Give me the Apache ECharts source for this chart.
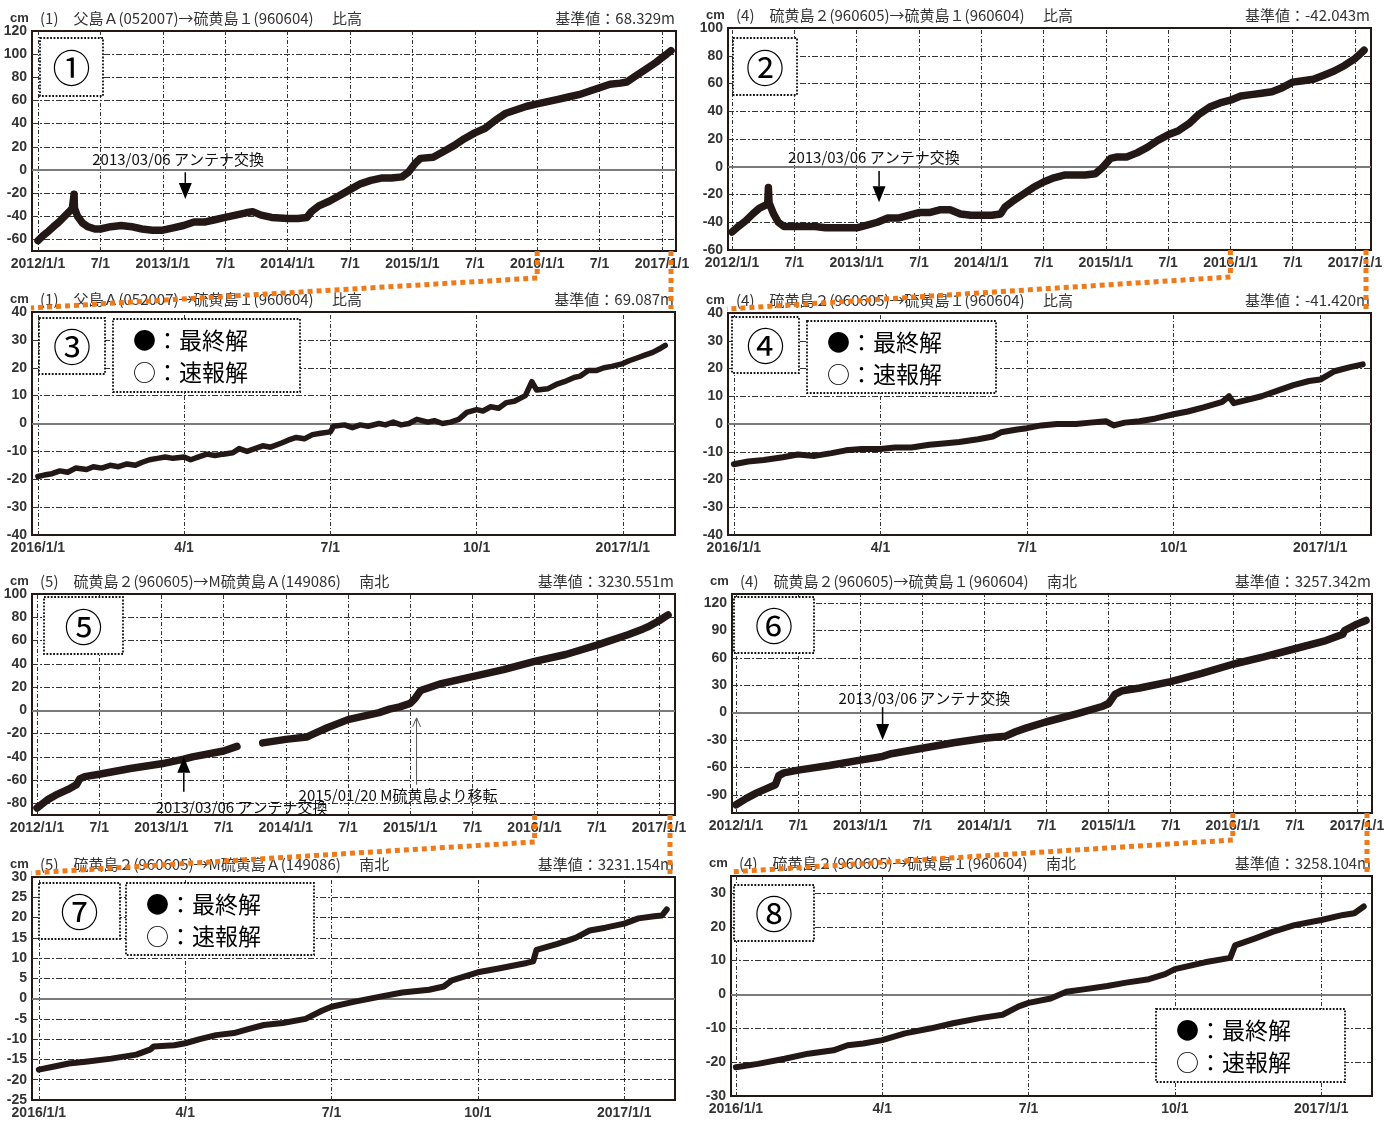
<!DOCTYPE html>
<html>
<head>
<meta charset="utf-8">
<title>硫黄島 GNSS 基線変化</title>
<script src="https://cdn.jsdelivr.net/npm/echarts@6/dist/echarts.min.js"></script>
<style>
  html, body { margin: 0; padding: 0; background: #ffffff; }
  #chart { width: 1399px; height: 1121px; }
</style>
</head>
<body>
<div id="chart"></div>
<script>
// ---------------------------------------------------------------
// Baseline time series (cm), [date, value]
// ---------------------------------------------------------------
const p1Data = [
  ['2012/1/1',-61],['2012/1/15',-57],['2012/2/1',-53],['2012/2/15',-49],['2012/3/1',-45],
  ['2012/3/15',-41],['2012/4/1',-36],['2012/4/10',-33],['2012/4/14',-32],['2012/4/15',-21],
  ['2012/4/16',-33],['2012/4/25',-40],['2012/5/10',-46],['2012/5/25',-49],['2012/6/15',-51],
  ['2012/7/1',-51],['2012/8/1',-49],['2012/9/1',-48],['2012/10/1',-49],['2012/11/1',-51],
  ['2012/12/1',-52],['2013/1/1',-52],['2013/2/1',-50],['2013/3/1',-48],['2013/4/1',-45],
  ['2013/5/1',-45],['2013/6/1',-43],['2013/7/1',-41],['2013/8/1',-39],['2013/9/1',-37],
  ['2013/9/20',-36],['2013/10/15',-39],['2013/11/15',-41],['2014/1/1',-42],['2014/2/1',-42],
  ['2014/2/25',-41],['2014/3/10',-36],['2014/4/1',-31],['2014/5/1',-27],['2014/6/1',-22],
  ['2014/7/1',-17],['2014/8/1',-12],['2014/9/1',-9],['2014/10/1',-7],['2014/11/1',-7],
  ['2014/12/1',-6],['2014/12/20',-2],['2015/1/10',6],['2015/1/25',10],['2015/3/1',11],
  ['2015/4/1',16],['2015/5/1',21],['2015/6/1',27],['2015/7/1',32],['2015/8/1',36],
  ['2015/9/1',43],['2015/10/1',49],['2015/11/1',52],['2015/12/1',55],['2016/1/1',57],
  ['2016/2/1',59],['2016/3/1',61],['2016/4/1',63],['2016/5/1',65],['2016/6/1',68],
  ['2016/7/1',71],['2016/8/1',74],['2016/9/1',75],['2016/9/20',76],['2016/10/15',81],
  ['2016/11/15',87],['2016/12/15',93],['2017/1/1',97],['2017/1/15',100],['2017/1/28',103]
];
const p2Data = [
  ['2012/1/1',-47],['2012/1/20',-43],['2012/2/10',-39],['2012/3/1',-34],['2012/3/20',-30],
  ['2012/4/5',-28],['2012/4/14',-27],['2012/4/16',-15],['2012/4/18',-26],['2012/5/1',-34],
  ['2012/5/15',-40],['2012/6/1',-43],['2012/7/1',-43],['2012/8/1',-43],['2012/9/1',-43],
  ['2012/10/1',-44],['2012/11/1',-44],['2012/12/1',-44],['2013/1/1',-44],['2013/2/1',-42],
  ['2013/3/1',-40],['2013/4/1',-37],['2013/5/1',-37],['2013/6/1',-35],['2013/7/1',-33],
  ['2013/8/1',-33],['2013/9/1',-31],['2013/10/1',-31],['2013/11/1',-34],['2013/12/1',-35],
  ['2014/1/1',-35],['2014/2/1',-35],['2014/2/25',-34],['2014/3/10',-29],['2014/4/1',-25],
  ['2014/5/1',-20],['2014/6/1',-15],['2014/7/1',-11],['2014/8/1',-8],['2014/9/1',-6],
  ['2014/10/1',-6],['2014/11/1',-6],['2014/12/1',-5],['2014/12/20',-1],['2015/1/15',6],
  ['2015/2/1',7],['2015/3/1',7],['2015/4/1',10],['2015/5/1',14],['2015/6/1',19],
  ['2015/7/1',23],['2015/8/1',26],['2015/9/1',31],['2015/10/1',38],['2015/11/1',43],
  ['2015/12/1',46],['2016/1/1',48],['2016/2/1',51],['2016/3/1',52],['2016/4/1',53],
  ['2016/5/1',54],['2016/6/1',57],['2016/7/1',61],['2016/8/1',62],['2016/9/1',63],
  ['2016/10/1',66],['2016/11/1',69],['2016/12/1',73],['2017/1/1',78],['2017/1/15',81],
  ['2017/1/28',84]
];
const p3Data = [
  ['2016/1/1',-19],['2016/1/5',-18.5],['2016/1/10',-18],['2016/1/15',-17],['2016/1/20',-17.5],
  ['2016/1/25',-16],['2016/2/1',-16.5],['2016/2/5',-15.5],['2016/2/10',-16],['2016/2/15',-15],
  ['2016/2/20',-15.5],['2016/2/25',-14.5],['2016/3/1',-15],['2016/3/5',-14],['2016/3/10',-13],
  ['2016/3/15',-12.5],['2016/3/20',-12],['2016/3/25',-12.5],['2016/4/1',-12],['2016/4/5',-13],
  ['2016/4/10',-12],['2016/4/15',-11],['2016/4/20',-11.5],['2016/4/25',-11],['2016/5/1',-10.5],
  ['2016/5/5',-9],['2016/5/10',-10],['2016/5/15',-9],['2016/5/20',-8],['2016/5/25',-8.5],
  ['2016/6/1',-7],['2016/6/5',-6],['2016/6/10',-5],['2016/6/15',-5.5],['2016/6/20',-4],
  ['2016/6/25',-3.5],['2016/7/1',-3],['2016/7/3',-1],['2016/7/10',-0.5],['2016/7/15',-1.5],
  ['2016/7/20',-0.5],['2016/7/25',-1],['2016/8/1',0],['2016/8/5',-0.5],['2016/8/10',0.5],
  ['2016/8/15',-0.5],['2016/8/20',0],['2016/8/25',1.5],['2016/9/1',0.5],['2016/9/5',1],
  ['2016/9/10',0],['2016/9/15',0.5],['2016/9/20',1.5],['2016/9/25',4],['2016/10/1',5],
  ['2016/10/5',4.5],['2016/10/10',6],['2016/10/15',5.5],['2016/10/20',7.5],['2016/10/25',8],
  ['2016/11/1',10],['2016/11/5',15],['2016/11/8',12],['2016/11/15',12.5],['2016/11/20',14],
  ['2016/11/25',15],['2016/12/1',16.5],['2016/12/5',17],['2016/12/10',19],['2016/12/15',19],
  ['2016/12/20',20],['2016/12/25',20.5],['2017/1/1',21.5],['2017/1/5',22.5],['2017/1/10',23.5],
  ['2017/1/15',24.5],['2017/1/20',25.5],['2017/1/25',27],['2017/1/28',28]
];
const p4Data = [
  ['2016/1/1',-14.5],['2016/1/10',-13.5],['2016/1/20',-13],['2016/2/1',-12],['2016/2/10',-11],
  ['2016/2/20',-11.5],['2016/3/1',-10.5],['2016/3/10',-9.5],['2016/3/20',-9],['2016/4/1',-9],
  ['2016/4/10',-8.5],['2016/4/20',-8.5],['2016/5/1',-7.5],['2016/5/10',-7],['2016/5/20',-6.5],
  ['2016/6/1',-5.5],['2016/6/10',-4.5],['2016/6/15',-3],['2016/6/25',-2],['2016/7/1',-1.5],
  ['2016/7/10',-0.5],['2016/7/20',0],['2016/8/1',0],['2016/8/10',0.5],['2016/8/20',1],
  ['2016/8/25',-0.5],['2016/9/1',0.5],['2016/9/10',1],['2016/9/20',2],['2016/10/1',3.5],
  ['2016/10/10',4.5],['2016/10/20',6],['2016/11/1',8],['2016/11/5',10],['2016/11/8',7.5],
  ['2016/11/15',8.5],['2016/11/25',10],['2016/12/5',12],['2016/12/15',14],['2016/12/25',15.5],
  ['2017/1/1',16],['2017/1/10',19],['2017/1/20',20.5],['2017/1/28',21.5]
];
const p5Data = [
  ['2012/1/1',-84],['2012/2/1',-77],['2012/3/1',-72],['2012/4/1',-68],['2012/4/25',-64],
  ['2012/5/5',-59],['2012/5/20',-57],['2012/7/1',-55],['2012/10/1',-50],['2013/1/1',-46],
  ['2013/3/6',-42],['2013/4/1',-40],['2013/7/1',-35],['2013/8/10',-31],
  ['2013/9/15',null],
  ['2013/10/25',-28],['2014/1/1',-25],['2014/3/1',-23],['2014/4/1',-19],['2014/5/1',-15],
  ['2014/7/1',-8],['2014/10/1',-2],['2014/11/1',1],['2014/12/1',3],['2015/1/1',6],
  ['2015/1/15',10],['2015/2/1',17],['2015/3/1',20],['2015/4/1',23],['2015/7/1',29],
  ['2015/10/1',35],['2016/1/1',42],['2016/4/1',48],['2016/7/1',56],['2016/10/1',65],
  ['2016/11/15',70],['2016/12/1',72],['2017/1/1',77],['2017/1/28',82]
];
const p6Data = [
  ['2012/1/1',-101],['2012/2/1',-94],['2012/3/1',-88],['2012/4/1',-83],['2012/4/25',-79],
  ['2012/5/5',-69],['2012/5/20',-66],['2012/7/1',-63],['2012/10/1',-58],['2013/1/1',-52],
  ['2013/3/6',-48],['2013/4/1',-45],['2013/7/1',-39],['2013/10/1',-33],['2014/1/1',-28],
  ['2014/3/1',-26],['2014/4/1',-21],['2014/5/1',-17],['2014/7/1',-10],['2014/10/1',-1],
  ['2014/12/15',7],['2015/1/1',10],['2015/1/20',20],['2015/2/10',24],['2015/4/1',27],
  ['2015/7/1',34],['2015/10/1',43],['2016/1/1',53],['2016/4/1',61],['2016/7/1',70],
  ['2016/10/1',79],['2016/11/20',86],['2016/11/25',90],['2017/1/1',97],['2017/1/28',101]
];
const p7Data = [
  ['2016/1/1',-17.5],['2016/1/10',-16.8],['2016/1/20',-16],['2016/2/1',-15.5],['2016/2/15',-14.8],
  ['2016/3/1',-13.8],['2016/3/10',-12.5],['2016/3/12',-11.8],['2016/3/25',-11.5],['2016/4/1',-11],
  ['2016/4/10',-10],['2016/4/20',-9],['2016/5/1',-8.5],['2016/5/10',-7.5],['2016/5/20',-6.5],
  ['2016/6/1',-6],['2016/6/15',-5],['2016/6/25',-3],['2016/7/1',-2],['2016/7/15',-0.8],
  ['2016/8/1',0.5],['2016/8/15',1.5],['2016/9/1',2.2],['2016/9/10',3],['2016/9/15',4.5],
  ['2016/10/1',6.5],['2016/10/15',7.5],['2016/11/1',8.8],['2016/11/5',9.2],['2016/11/7',12],
  ['2016/11/20',13.5],['2016/12/1',15],['2016/12/10',16.8],['2016/12/20',17.5],['2017/1/1',18.5],
  ['2017/1/10',19.8],['2017/1/20',20.3],['2017/1/25',20.5],['2017/1/28',22]
];
const p8Data = [
  ['2016/1/1',-21.5],['2016/1/15',-20.5],['2016/2/1',-19],['2016/2/15',-17.5],['2016/3/1',-16.5],
  ['2016/3/10',-15],['2016/3/20',-14.5],['2016/4/1',-13.5],['2016/4/15',-11.5],['2016/5/1',-10],
  ['2016/5/15',-8.5],['2016/6/1',-7],['2016/6/15',-6],['2016/6/25',-3.5],['2016/7/1',-2.5],
  ['2016/7/15',-1.2],['2016/7/25',0.8],['2016/8/5',1.5],['2016/8/20',2.5],['2016/9/1',3.5],
  ['2016/9/15',4.5],['2016/9/25',6],['2016/10/1',7.5],['2016/10/20',9.5],['2016/11/5',10.8],
  ['2016/11/8',14.5],['2016/11/20',16.5],['2016/12/1',18.5],['2016/12/15',20.5],['2017/1/1',22],
  ['2017/1/15',23.5],['2017/1/22',24],['2017/1/28',26]
];

// ---------------------------------------------------------------
// Tick labels
// ---------------------------------------------------------------
const longTickLabels  = ['2012/1/1','7/1','2013/1/1','7/1','2014/1/1','7/1','2015/1/1','7/1','2016/1/1','7/1','2017/1/1'];
const longTickMonths  = [0, 6, 12, 18, 24, 30, 36, 42, 48, 54, 60];
const shortTickLabels = ['2016/1/1','4/1','7/1','10/1','2017/1/1'];
const shortTickMonths = [0, 3, 6, 9, 12];

const p1YTicks = [-60, -40, -20, 0, 20, 40, 60, 80, 100, 120];
const p2YTicks = [-60, -40, -20, 0, 20, 40, 60, 80, 100];
const p3YTicks = [-40, -30, -20, -10, 0, 10, 20, 30, 40];
const p4YTicks = [-40, -30, -20, -10, 0, 10, 20, 30, 40];
const p5YTicks = [-80, -60, -40, -20, 0, 20, 40, 60, 80, 100];
const p6YTicks = [-90, -60, -30, 0, 30, 60, 90, 120];
const p7YTicks = [-25, -20, -15, -10, -5, 0, 5, 10, 15, 20, 25, 30];
const p8YTicks = [-30, -20, -10, 0, 10, 20, 30];

// Panel headings
const titles = [
  '(1)\u3000父島Ａ(052007)→硫黄島１(960604)\u3000 比高',
  '(4)\u3000硫黄島２(960605)→硫黄島１(960604)\u3000 比高',
  '(1)\u3000父島Ａ(052007)→硫黄島１(960604)\u3000 比高',
  '(4)\u3000硫黄島２(960605)→硫黄島１(960604)\u3000 比高',
  '(5)\u3000硫黄島２(960605)→M硫黄島Ａ(149086)\u3000 南北',
  '(4)\u3000硫黄島２(960605)→硫黄島１(960604)\u3000 南北',
  '(5)\u3000硫黄島２(960605)→M硫黄島Ａ(149086)\u3000 南北',
  '(4)\u3000硫黄島２(960605)→硫黄島１(960604)\u3000 南北'
];
const refValues = ['68.329m', '-42.043m', '69.087m', '-41.420m', '3230.551m', '3257.342m', '3231.154m', '3258.104m'];
const panelNumbers = ['①', '②', '③', '④', '⑤', '⑥', '⑦', '⑧'];
const antennaDate = '2013/3/6';
const antennaText = '2013/03/06 アンテナ交換';
const relocDate = '2015/1/20';
const relocText = '2015/01/20 M硫黄島より移転';
const zoomStart = '2016/1/1';
const legendFinal = '●：最終解';
const legendRapid = '○：速報解';

// ---------------------------------------------------------------
// Layout & style
// ---------------------------------------------------------------
const INK = '#231815';
const NUM_FONT = "'Liberation Sans', Arial, sans-serif";
const JP_FONT = "'Noto Sans CJK JP', 'Noto Sans', sans-serif";
const ORANGE = '#EE7A1A';

// rect: [left, top, width, height]
const panels = [
  { data: p1Data, base: 2012, rect: [32, 31, 644, 220],  xMin: -0.58, xMax: 61.35, yMin: -70, yMax: 120, yTicks: p1YTicks, long: true,  lw: 7.5,
    numBox: [40, 38, 63, 58] },
  { data: p2Data, base: 2012, rect: [728, 28, 643, 222], xMin: -0.39, xMax: 61.54, yMin: -60, yMax: 100, yTicks: p2YTicks, long: true,  lw: 7.5,
    numBox: [733, 38, 64, 57] },
  { data: p3Data, base: 2016, rect: [32, 312, 643, 223], xMin: -0.12, xMax: 13.07, yMin: -40, yMax: 40,  yTicks: p3YTicks, long: false, lw: 5.5,
    numBox: [39, 318, 66, 56], legendBox: [113, 319, 187, 73] },
  { data: p4Data, base: 2016, rect: [728, 313, 643, 222], xMin: -0.12, xMax: 13.04, yMin: -40, yMax: 40,  yTicks: p4YTicks, long: false, lw: 6,
    numBox: [732, 317, 67, 56], legendBox: [807, 321, 189, 72] },
  { data: p5Data, base: 2012, rect: [32, 594, 643, 221], xMin: -0.48, xMax: 61.54, yMin: -90, yMax: 100, yTicks: p5YTicks, long: true,  lw: 7.5,
    numBox: [44, 597, 79, 57] },
  { data: p6Data, base: 2012, rect: [732, 594, 640, 219], xMin: -0.39, xMax: 61.45, yMin: -110, yMax: 130, yTicks: p6YTicks, long: true, lw: 7.5,
    numBox: [734, 597, 80, 56] },
  { data: p7Data, base: 2016, rect: [32, 877, 643, 223], xMin: -0.14, xMax: 13.04, yMin: -25, yMax: 30,  yTicks: p7YTicks, long: false, lw: 6,
    numBox: [39, 883, 81, 56], legendBox: [126, 883, 188, 72] },
  { data: p8Data, base: 2016, rect: [731, 876, 641, 220], xMin: -0.10, xMax: 13.04, yMin: -30, yMax: 35,  yTicks: p8YTicks, long: false, lw: 6,
    numBox: [734, 885, 80, 56], legendBox: [1156, 1009, 189, 73] }
];

function toMonths(s, baseYear) {
  const p = s.split('/').map(Number);
  const dim = new Date(p[0], p[1], 0).getDate();
  return (p[0] - baseYear) * 12 + (p[1] - 1) + (p[2] - 1) / dim;
}

const gridLineH = { type: [6, 2, 2, 2], color: '#333333', width: 1 };
const gridLineV = { type: [4, 2, 1, 2], color: '#333333', width: 1 };
const zeroLine  = { type: 'solid', color: '#7a7a7a', width: 1.8 };

const axisLabelBase = { color: '#333', fontFamily: NUM_FONT, fontSize: 14, fontWeight: 'bold' };

const chart = echarts.init(document.getElementById('chart'), null, { renderer: 'canvas' });

const grids = [], xAxes = [], yAxes = [], series = [];
panels.forEach(function (p, i) {
  const tickMonths = p.long ? longTickMonths : shortTickMonths;
  const tickLabels = p.long ? longTickLabels : shortTickLabels;
  grids.push({
    left: p.rect[0], top: p.rect[1], width: p.rect[2], height: p.rect[3],
    show: true, borderColor: INK, borderWidth: 2, backgroundColor: '#ffffff', containLabel: false
  });
  xAxes.push({
    gridIndex: i, type: 'value', min: p.xMin, max: p.xMax,
    axisLine: { show: false }, axisTick: { show: false }, splitLine: { show: false },
    axisLabel: Object.assign({}, axisLabelBase, {
      margin: 6,
      customValues: tickMonths,
      formatter: function (v) { const k = tickMonths.indexOf(Math.round(v)); return k >= 0 ? tickLabels[k] : ''; }
    })
  });
  yAxes.push({
    gridIndex: i, type: 'value', min: p.yMin, max: p.yMax,
    axisLine: { show: false }, axisTick: { show: false }, splitLine: { show: false },
    axisLabel: Object.assign({}, axisLabelBase, { margin: 5, customValues: p.yTicks })
  });

  // dashed reference grid + solid zero line
  const lines = [];
  tickMonths.forEach(function (m) { lines.push({ xAxis: m, lineStyle: gridLineV }); });
  p.yTicks.forEach(function (v) {
    if (v <= p.yMin || v >= p.yMax) return;
    lines.push({ yAxis: v, lineStyle: v === 0 ? zeroLine : gridLineH });
  });
  series.push({
    type: 'line', xAxisIndex: i, yAxisIndex: i, data: [], silent: true, z: 1,
    markLine: { silent: true, symbol: ['none', 'none'], z: 1, animation: false, label: { show: false },
      emphasis: { disabled: true }, data: lines }
  });

  series.push({
    type: 'line', xAxisIndex: i, yAxisIndex: i, z: 3, silent: true,
    showSymbol: false, symbol: 'none', clip: true, connectNulls: false,
    lineStyle: { color: INK, width: p.lw, cap: 'round', join: 'round' },
    data: p.data.map(function (d) { return [toMonths(d[0], p.base), d[1] === null ? '-' : d[1]]; })
  });
});

chart.setOption({
  backgroundColor: '#ffffff',
  animation: false,
  grid: grids, xAxis: xAxes, yAxis: yAxes, series: series
});

// ---------------------------------------------------------------
// Headings, boxes, annotations and connectors
// ---------------------------------------------------------------
const px = function (i, x, y) { return chart.convertToPixel({ gridIndex: i }, [x, y]); };
const g = [];

function text(x, y, str, opts) {
  g.push({ type: 'text', x: x, y: y, z: 30, silent: true,
    style: Object.assign({ text: str, fill: '#222', fontFamily: JP_FONT, fontSize: 15,
      align: 'left', verticalAlign: 'middle' }, opts || {}) });
}
function dottedBox(r) {
  g.push({ type: 'rect', z: 20, silent: true, shape: { x: r[0], y: r[1], width: r[2], height: r[3] },
    style: { fill: '#ffffff', stroke: '#111', lineWidth: 1.8, lineDash: [1.8, 1.6] } });
}
function arrow(x, yFrom, yTip, filled) {
  const dir = yTip > yFrom ? 1 : -1;
  const headLen = filled ? 16 : 9, headW = filled ? 6.5 : 4;
  g.push({ type: 'line', z: 25, silent: true,
    shape: { x1: x, y1: yFrom, x2: x, y2: filled ? yTip - dir * headLen : yTip },
    style: { stroke: filled ? '#000' : '#555', lineWidth: filled ? 1.5 : 1 } });
  if (filled) {
    g.push({ type: 'polygon', z: 25, silent: true,
      shape: { points: [[x, yTip], [x - headW, yTip - dir * headLen], [x + headW, yTip - dir * headLen]] },
      style: { fill: '#000' } });
  } else {
    g.push({ type: 'polyline', z: 25, silent: true,
      shape: { points: [[x - headW, yTip - dir * headLen], [x, yTip], [x + headW, yTip - dir * headLen]] },
      style: { stroke: '#555', lineWidth: 1, fill: null } });
  }
}

panels.forEach(function (p, i) {
  const left = p.rect[0], top = p.rect[1], right = p.rect[0] + p.rect[2];
  text(left - 22, top - 13, 'cm', { fontFamily: NUM_FONT, fontWeight: 'bold', fontSize: 13, fill: '#333' });
  text(left + 8, top - 13, titles[i], { fontSize: 15, fill: '#333' });
  text(right - 1, top - 13, '基準値：' + refValues[i], { fontSize: 15, fill: '#333', align: 'right' });

  dottedBox(p.numBox);
  text(p.numBox[0] + p.numBox[2] / 2, p.numBox[1] + p.numBox[3] / 2 + 1, panelNumbers[i],
    { fontSize: 38, fill: '#000', align: 'center' });

  if (p.legendBox) {
    const b = p.legendBox;
    dottedBox(b);
    text(b[0] + 20, b[1] + 21, legendFinal, { fontSize: 23, fill: '#000' });
    text(b[0] + 20, b[1] + 53, legendRapid, { fontSize: 23, fill: '#000' });
  }
});

// antenna exchange notes (panels 1, 2, 6: arrow down; panel 5: arrow up)
(function () {
  const notes = [
    { i: 0, textY: 9.5, from: -2, tip: -25, dx: -93 },
    { i: 1, textY: 7,   from: -3, tip: -25.5, dx: -91 },
    { i: 5, textY: 16,  from: 6,  tip: -30, dx: -44 }
  ];
  notes.forEach(function (n) {
    const m = toMonths(antennaDate, panels[n.i].base);
    const a = px(n.i, m, n.from), b = px(n.i, m, n.tip), t = px(n.i, m, n.textY);
    text(a[0] + n.dx, t[1], antennaText, { fontSize: 15, fill: '#111' });
    arrow(a[0], a[1], b[1], true);
  });
  // panel 5
  const m5 = toMonths(antennaDate, 2012);
  const a5 = px(4, m5, -70), b5 = px(4, m5, -40), t5 = px(4, m5, -83);
  arrow(a5[0], a5[1], b5[1], true);
  const mr = toMonths(relocDate, 2012);
  const ar = px(4, mr, -64), br = px(4, mr, -6.5), tr = px(4, mr, -73);
  arrow(ar[0], ar[1], br[1], false);
  text(ar[0] - 118, tr[1], relocText, { fontSize: 15, fill: '#111' });
  text(a5[0] - 28, t5[1], antennaText, { fontSize: 15, fill: '#111' });
})();

// orange dotted connectors from the 2016 section of each long panel to its detail panel
[[0, 2], [1, 3], [4, 6], [5, 7]].forEach(function (pair) {
  const up = panels[pair[0]], low = panels[pair[1]];
  const bottom = up.rect[1] + up.rect[3];
  const xs = px(pair[0], toMonths(zoomStart, up.base), 0)[0];
  const xr = up.rect[0] + up.rect[2] - 5;
  const lowTop = low.rect[1];
  const style = { stroke: ORANGE, lineWidth: 5, lineDash: [5, 4], fill: null };
  g.push({ type: 'polyline', z: 40, silent: true,
    shape: { points: [[xs, bottom], [xs, bottom + 27], [low.rect[0] - 1, lowTop - 4]] }, style: style });
  g.push({ type: 'polyline', z: 40, silent: true,
    shape: { points: [[xr, bottom], [xr, lowTop - 3]] }, style: style });
});

chart.setOption({ graphic: g });
</script>
</body>
</html>
